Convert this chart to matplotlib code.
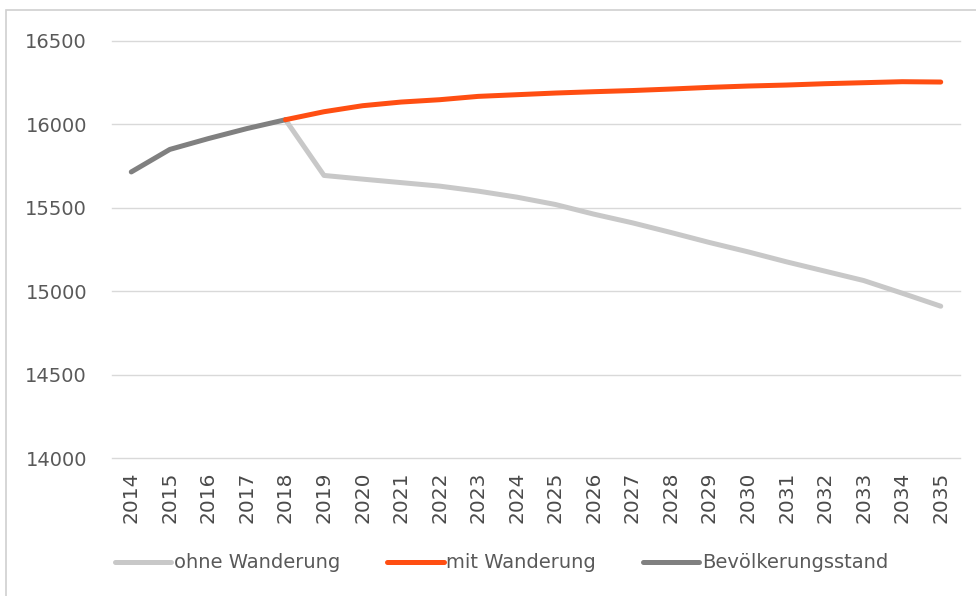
import numpy as np
import matplotlib
matplotlib.use("Agg")
import matplotlib.pyplot as plt
from matplotlib.patches import Rectangle

years = [str(y) for y in range(2014, 2036)]

# Bevoelkerungsstand 2014-2018
stand = [15715, 15850, 15915, 15975, 16028]

# projections 2018-2035
ohne = [16028, 15694, 15672, 15651, 15630, 15600, 15564, 15520, 15462,
        15410, 15352, 15292, 15236, 15176, 15120, 15064, 14988, 14910]
mit = [16028, 16076, 16112, 16134, 16148, 16168, 16178, 16188, 16196,
       16203, 16212, 16222, 16230, 16236, 16244, 16250, 16256, 16254]

series_names = ["ohne Wanderung", "mit Wanderung", "Bevölkerungsstand"]
colors = ["#C8C8C8", "#FF4E12", "#808080"]

yticks = [14000, 14500, 15000, 15500, 16000, 16500]


def main():
    fig = plt.figure(figsize=(9.76, 5.96), dpi=100)
    ax = fig.add_axes([112 / 976, 1 - 458 / 596, (960 - 112) / 976, (458 - 41) / 596])

    x = np.arange(len(years))
    x_stand = x[:len(stand)]
    x_proj = x[len(stand) - 1:]

    ax.plot(x_proj, ohne, color=colors[0], lw=3.6, solid_capstyle="round",
            label=series_names[0], zorder=3)
    ax.plot(x_proj, mit, color=colors[1], lw=3.6, solid_capstyle="round",
            label=series_names[1], zorder=4)
    ax.plot(x_stand, stand, color=colors[2], lw=3.6, solid_capstyle="round",
            label=series_names[2], zorder=3)

    ax.set_xlim(-0.5, len(years) - 0.5)
    ax.set_ylim(14000, 16500)
    ax.set_yticks(yticks)
    ax.set_yticklabels([str(t) for t in yticks])
    ax.set_xticks(x)
    ax.set_xticklabels(years, rotation=90)
    ax.grid(axis="y", color="#D9D9D9", lw=1)
    for gl in ax.get_ygridlines():
        gl.set_clip_on(False)
    ax.set_axisbelow(True)
    for s in ax.spines.values():
        s.set_visible(False)
    ax.tick_params(axis="both", length=0)
    ax.tick_params(axis="y", labelsize=14, labelcolor="#595959", pad=18)
    ax.tick_params(axis="x", labelsize=14.5, labelcolor="#4a4a4a", pad=10)

    fig.legend(loc="center", bbox_to_anchor=(0.514, 1 - 563 / 596), ncol=3,
               frameon=False, fontsize=14, handlelength=2.9, handletextpad=0.15,
               columnspacing=2.4, labelcolor="#595959")

    # chart frame (top and left edges visible)
    fig.patches.append(Rectangle((6 / 976, -0.2), 1.2, 1.2 - 10 / 596,
                                 transform=fig.transFigure, fill=False,
                                 edgecolor="#D0D0D0", lw=1.2))

    fig.savefig("out.png", dpi=100)


if __name__ == "__main__":
    main()
